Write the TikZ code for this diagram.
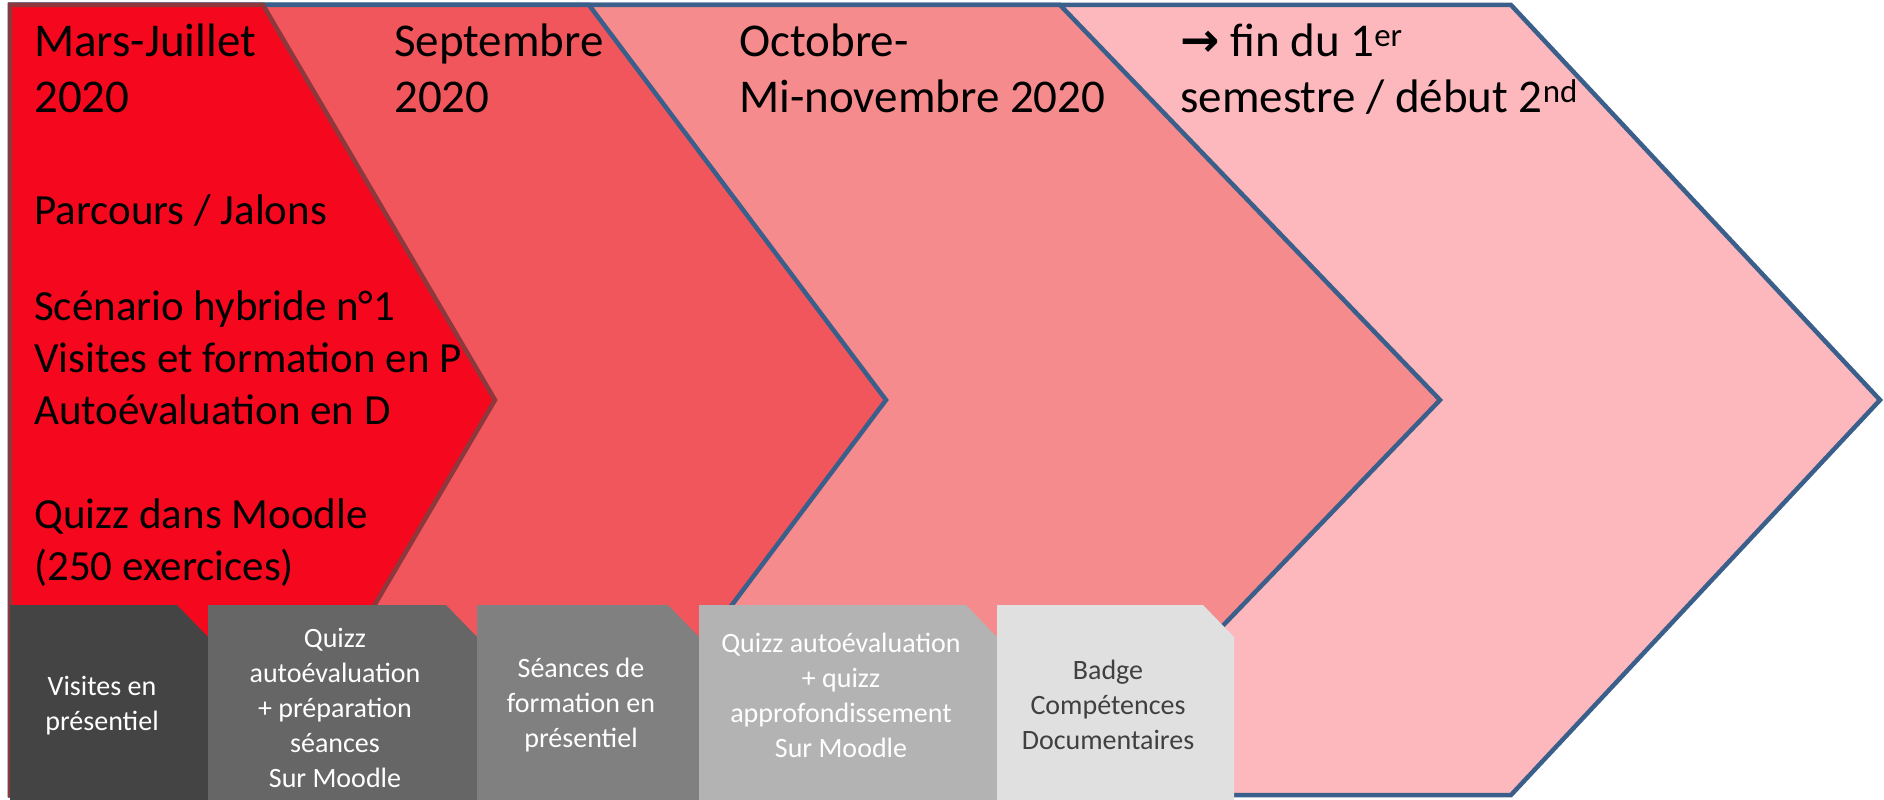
\documentclass[tikz,border=0pt]{standalone}
\usepackage{fontspec}
\setmainfont{Carlito}
\newfontfamily\arrowfont{DejaVu Sans}
\usetikzlibrary{positioning}

\definecolor{redA}{RGB}{245,8,30}
\definecolor{redB}{RGB}{240,86,91}
\definecolor{redC}{RGB}{245,139,140}
\definecolor{redD}{RGB}{252,184,188}
\definecolor{edgeblue}{RGB}{59,95,139}
\definecolor{edgebrown}{RGB}{140,56,60}
\definecolor{greyA}{RGB}{68,68,68}
\definecolor{greyB}{RGB}{102,102,102}
\definecolor{greyC}{RGB}{128,128,128}
\definecolor{greyD}{RGB}{179,179,179}
\definecolor{greyE}{RGB}{224,224,224}
\definecolor{txtgrey}{RGB}{64,64,64}

\begin{document}
\begin{tikzpicture}[x=1pt,y=-1pt,line width=4.5pt,line join=miter]
  \tikzstyle{chevron}=[draw=edgeblue]
  \tikzstyle{period}=[anchor=base west,align=left,inner sep=0pt,font=\fontsize{47}{56}\selectfont]
  \tikzstyle{body}=[anchor=base west,align=left,inner sep=0pt,font=\fontsize{43}{52}\selectfont]
  \tikzstyle{tile}=[align=center,inner sep=0pt,text=white,font=\fontsize{28}{35}\selectfont]

  \useasboundingbox (0,0) rectangle (1884,800);

  % chevrons, back to front
  \filldraw[chevron,fill=redD] (10,5) -- (1511,5) -- (1880,400) -- (1511,795) -- (10,795) -- cycle;
  \filldraw[chevron,fill=redC] (10,5) -- (1060,5) -- (1440,400) -- (1060,795) -- (10,795) -- cycle;
  \filldraw[chevron,fill=redB] (10,5) -- (589,5) -- (886,400) -- (589,795) -- (10,795) -- cycle;
  \filldraw[chevron,draw=edgebrown,fill=redA] (10,5) -- (263,5) -- (495,400) -- (263,795) -- (10,795) -- cycle;

  % texts (base = last line)
  \node[period] (mars) at (32,112) {Mars-Juillet\\2020};
  \node[body] (parcours) at (32,580) {Parcours / Jalons\\[44pt]Scénario hybride n°1\\Visites et formation en P\\Autoévaluation en D\\[52pt]Quizz dans Moodle\\(250 exercices)};
  \node[period] (sept) at (392,112) {Septembre\\2020};
  \node[period] (oct) at (737,112) {Octobre-\\Mi-novembre 2020};
  \node[period] (fin) at (1178,112) {{\arrowfont\bfseries →} fin du 1\textsuperscript{er}\\semestre / début 2\textsuperscript{nd}};

  % bottom tiles
  \fill[greyA] (10,605) -- (177,605) -- (208,637) -- (208,800) -- (10,800) -- cycle;
  \fill[greyB] (208,605) -- (446,605) -- (477,637) -- (477,800) -- (208,800) -- cycle;
  \fill[greyC] (477,605) -- (668,605) -- (699,637) -- (699,800) -- (477,800) -- cycle;
  \fill[greyD] (699,605) -- (966,605) -- (997,637) -- (997,800) -- (699,800) -- cycle;
  \fill[greyE] (997,605) -- (1203,605) -- (1234,637) -- (1234,800) -- (997,800) -- cycle;

  \node[tile] (visites) at (102,706) {Visites en\\présentiel};
  \node[tile] (quizzA) at (335,708) {Quizz\\autoévaluation\\+ préparation\\séances\\Sur Moodle};
  \node[tile] (seances) at (581,705) {Séances de\\formation en\\présentiel};
  \node[tile] (quizzB) at (841,695) {Quizz autoévaluation\\+ quizz\\approfondissement\\Sur Moodle};
  \node[tile,text=txtgrey] (badge) at (1108,705) {Badge\\Compétences\\Documentaires};
\end{tikzpicture}
\end{document}
